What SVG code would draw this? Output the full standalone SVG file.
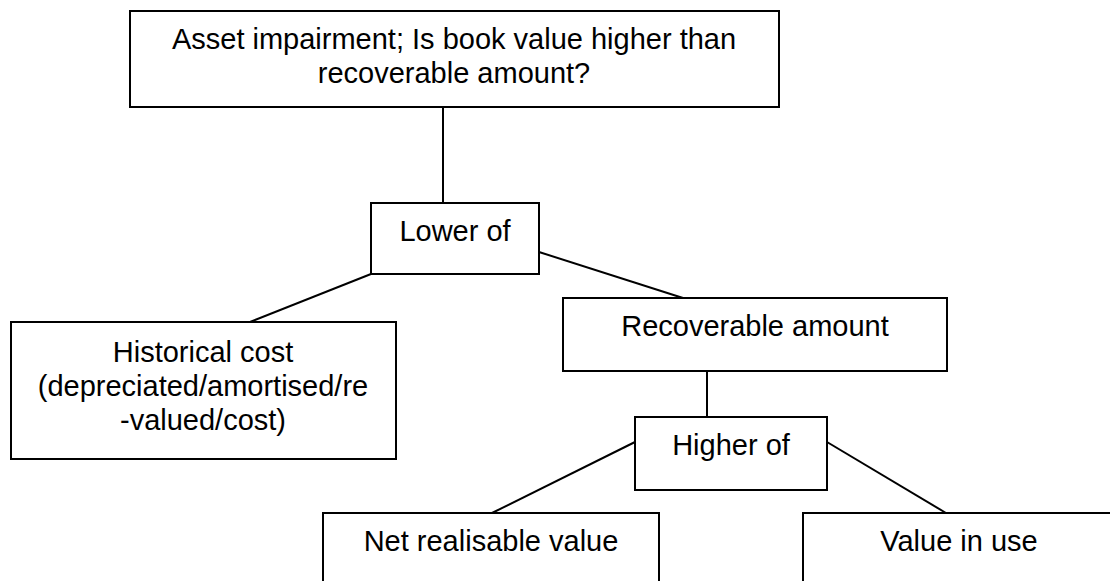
<svg xmlns="http://www.w3.org/2000/svg" width="1110" height="581" viewBox="0 0 1110 581">
  <style>
    .box { fill: #ffffff; stroke: #000000; stroke-width: 2; }
    .link { stroke: #000000; stroke-width: 2; fill: none; }
    .label { font-family: "Liberation Sans", Arial, sans-serif; font-size: 29px; fill: #000000; text-anchor: middle; }
  </style>
  <rect width="1110" height="581" fill="#ffffff"/>

  <!-- connectors -->
  <g id="connectors">
    <line class="link" x1="443" y1="107" x2="443" y2="203"/>
    <line class="link" x1="371" y1="274" x2="250" y2="322"/>
    <line class="link" x1="539" y1="252" x2="683" y2="298"/>
    <line class="link" x1="707" y1="371" x2="707" y2="417"/>
    <line class="link" x1="635" y1="442" x2="492" y2="513"/>
    <line class="link" x1="827" y1="442" x2="946" y2="513"/>
  </g>

  <g id="impairment-test">
    <rect class="box" x="130" y="11" width="649" height="96"/>
    <text class="label" x="454" y="49">Asset impairment; Is book value higher than</text>
    <text class="label" x="454" y="83">recoverable amount?</text>
  </g>

  <g id="lower-of">
    <rect class="box" x="371" y="203" width="168" height="71"/>
    <text class="label" x="455" y="241">Lower of</text>
  </g>

  <g id="historical-cost">
    <rect class="box" x="11" y="322" width="385" height="137"/>
    <text class="label" x="203" y="362">Historical cost</text>
    <text class="label" x="203" y="396">(depreciated/amortised/re</text>
    <text class="label" x="203" y="430">-valued/cost)</text>
  </g>

  <g id="recoverable-amount">
    <rect class="box" x="563" y="298" width="384" height="73"/>
    <text class="label" x="755" y="336">Recoverable amount</text>
  </g>

  <g id="higher-of">
    <rect class="box" x="635" y="417" width="192" height="73"/>
    <text class="label" x="731" y="455">Higher of</text>
  </g>

  <g id="net-realisable-value">
    <rect class="box" x="323" y="513" width="336" height="90"/>
    <text class="label" x="491" y="551">Net realisable value</text>
  </g>

  <g id="value-in-use">
    <rect class="box" x="803" y="513" width="312" height="90"/>
    <text class="label" x="959" y="551">Value in use</text>
  </g>
</svg>
